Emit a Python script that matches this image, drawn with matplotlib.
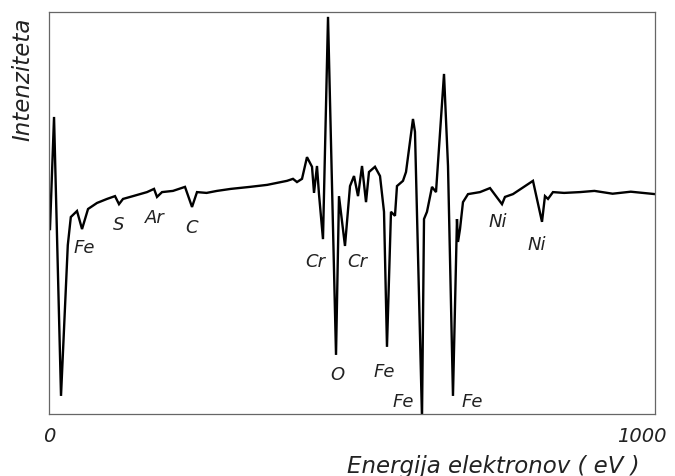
import matplotlib.pyplot as plt
from matplotlib.transforms import ScaledTranslation

# spekter Augerjevih elektronov (odčitano s slike)
energija = [1.6, 8.3, 19.8, 31.0, 36.0, 46.2, 54.5, 64.4, 79.2, 95.7, 108.9, 115.5, 122.1,
            138.6, 161.7, 173.3, 178.2, 186.5, 204.6, 224.4, 236.0, 244.2, 260.0,
            277.2, 300.0, 331.7, 360.0, 392.7, 402.6, 409.2, 417.5, 425.7, 434.0,
            437.3, 442.2, 445.5, 452.1, 460.4, 473.6, 478.5, 488.4, 496.7, 503.3,
            509.9, 516.5, 523.1, 528.0, 537.9, 546.2, 552.8, 557.7, 564.3, 570.9,
            574.2, 584.1, 589.1, 600.6, 603.9, 615.5, 618.8, 623.7, 632.0, 638.6,
            651.8, 658.4, 666.6, 673.2, 674.9, 678.2, 683.1, 691.4, 711.2, 727.7,
            747.5, 752.4, 765.6, 798.6, 813.5, 818.4, 823.4, 831.6, 850.0, 876.2,
            900.0, 930.0, 960.0, 1000.0]
intenziteta = [46.0, 73.9, 4.5, 42.0, 49.0, 50.5, 46.0, 51.0, 52.5, 53.5, 54.2, 52.2, 53.5,
               54.2, 55.2, 56.0, 54.0, 55.2, 55.5, 56.5, 51.5, 55.2, 55.0,
               55.5, 56.0, 56.5, 57.0, 58.0, 58.5, 57.7, 58.5, 63.9, 61.5,
               55.0, 61.7, 54.7, 43.5, 98.8, 14.7, 54.2, 41.8, 56.7, 59.2,
               54.2, 61.7, 52.7, 60.2, 61.5, 59.2, 50.3, 16.7, 50.3, 49.3,
               56.7, 58.0, 60.2, 73.4, 70.2, -1.0, 48.5, 50.3, 56.5, 55.2,
               84.6, 61.7, 4.5, 48.5, 42.8, 46.0, 52.7, 54.7, 55.2, 56.2,
               52.2, 54.0, 54.7, 58.0, 47.8, 54.2, 53.5, 55.2, 55.0, 55.2,
               55.5, 54.8, 55.3, 54.7]

# oznake elementov
oznake = ['Fe', 'S', 'Ar', 'C', 'Cr', 'Cr', 'O', 'Fe', 'Fe', 'Fe', 'Ni', 'Ni']
oznake_x = [59, 114, 175, 236, 439, 508, 475, 554, 584, 698, 741, 805]
oznake_y = [41.5, 47.3, 49.0, 46.5, 38.1, 38.1, 10.0, 10.7, 3.2, 3.2, 48.0, 42.3]

fig = plt.figure(figsize=(6.75, 4.77), dpi=100)
ax = fig.add_axes([0.0726, 0.130, 0.8978, 0.8427])
ax.plot(energija, intenziteta, color='black', lw=1.7, solid_joinstyle='miter')

for t, x, y in zip(oznake, oznake_x, oznake_y):
    ax.text(x, y, t, ha='center', va='center', fontsize=13, style='italic', color='#222222')

ax.set_xlim(0, 1000)
ax.set_ylim(0, 100)
ax.set_yticks([])
ax.set_xticks([0, 1000], ['0', '1000'])
ax.tick_params(axis='x', length=0, pad=9, labelsize=14, labelcolor='#222222')
for lab in ax.get_xticklabels():
    lab.set_style('italic')
lab1000 = ax.get_xticklabels()[1]
lab1000.set_transform(lab1000.get_transform() + ScaledTranslation(-0.13, 0, fig.dpi_scale_trans))

for s in ax.spines.values():
    s.set_color('#666666')
    s.set_linewidth(0.9)

ax.set_xlabel('Energija elektronov ( eV )', fontsize=16.5, style='italic', color='#222222')
ax.xaxis.set_label_coords(0.733, -0.129)
ax.xaxis.label.set_va('center')
ax.set_ylabel('Intenziteta', fontsize=16.5, style='italic', color='#222222')
ax.yaxis.set_label_coords(-0.043, 0.836)
ax.yaxis.label.set_va('center')

plt.savefig('out.png', dpi=100)
